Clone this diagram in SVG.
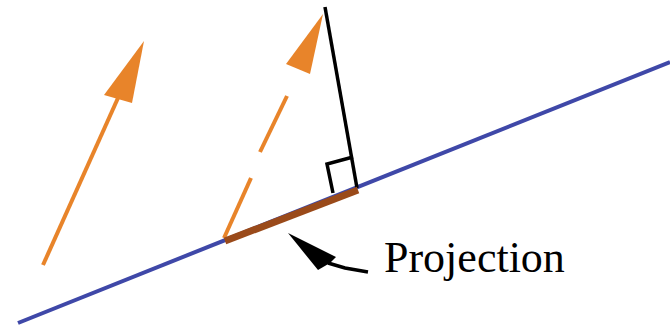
<svg xmlns="http://www.w3.org/2000/svg" width="670" height="329" viewBox="0 0 670 329">
<style>
.orange{stroke:#e8842a;stroke-width:4;fill:none;stroke-linecap:butt}
.ohead{fill:#e8842a}
.blue{stroke:#3f48a8;stroke-width:4;fill:none}
.brown{stroke:#9a4a1a;stroke-width:7;fill:none}
.black{stroke:#000;stroke-width:3.5;fill:none}
.label{font-family:"Liberation Serif","Times New Roman",serif;font-size:44px;fill:#000}
</style>
<rect width="670" height="329" fill="#fff"/>
<g id="baseline-line">
<line class="blue" x1="18" y1="323" x2="670" y2="62"/>
</g>
<g id="vector">
<line class="orange" x1="43" y1="265" x2="118" y2="98"/>
<polygon class="ohead" points="144,41 132,103 104,95"/>
</g>
<g id="vector-copy">
<polyline class="orange" points="224,238 251,178" />
<line class="orange" x1="260" y1="152" x2="287" y2="96"/>
<polygon class="ohead" points="323,14 310,74 286,64"/>
</g>
<g id="perpendicular">
<line class="black" x1="325" y1="7" x2="357" y2="188"/>
<polyline class="black" points="333,193 327,164 353,157"/>
</g>
<g id="projection-segment">
<line class="brown" x1="225" y1="241" x2="358" y2="190"/>
</g>
<g id="connectors">
<path d="M368,272 L345,268 L328,263" stroke="#000" stroke-width="3.5" fill="none"/>
<polygon points="288,233 336,257 330,263 318,270" fill="#000"/>
</g>
<g id="label">
<text class="label" x="384" y="272">Projection</text>
</g>
</svg>
